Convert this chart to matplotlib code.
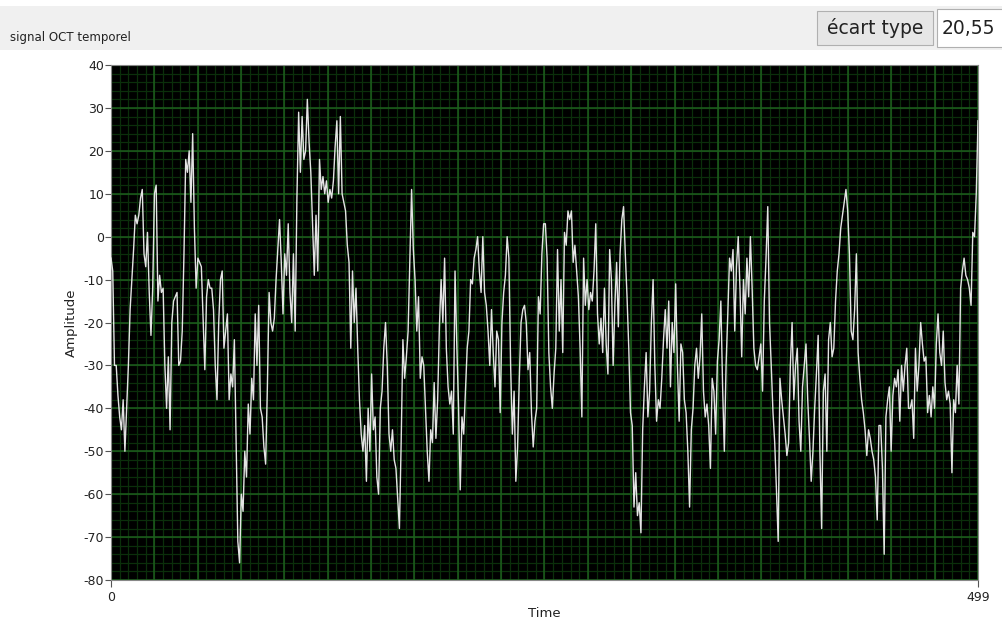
import numpy as np
import matplotlib
matplotlib.use("Agg")
import matplotlib.pyplot as plt
from matplotlib.patches import Rectangle

title = "signal OCT temporel"
x_label = "Time"
y_label = "Amplitude"
std_label = "écart type"
std_value = "20,55"
y_ticks = list(range(-80, 41, 10))
x_ticks = [0, 499]

amplitude = [
    -5, -8, -30, -30, -37, -42, -45, -38, -50, -40,
    -30, -17, -10, -3, 5, 3, 5, 9, 11, -4,
    -7, 1, -13, -23, -12, 10, 12, -15, -9, -13,
    -12, -30, -40, -28, -45, -20, -15, -14, -13, -30,
    -29, -22, -4, 18, 15, 20, 8, 24, 2, -12,
    -5, -6, -7, -19, -31, -14, -10, -12, -12, -17,
    -30, -38, -20, -10, -8, -26, -22, -18, -38, -32,
    -35, -24, -47, -71, -76, -60, -64, -50, -56, -39,
    -46, -33, -38, -18, -30, -16, -40, -42, -49, -53,
    -35, -13, -20, -22, -19, -10, -3, 4, -6, -18,
    -4, -9, 3, -13, -20, -4, -22, 9, 29, 15,
    28, 18, 20, 32, 22, 15, 3, -9, 5, -8,
    18, 11, 14, 10, 13, 8, 11, 9, 13, 21,
    27, 10, 28, 10, 8, 6, -2, -6, -26, -8,
    -20, -12, -26, -38, -46, -50, -44, -57, -40, -50,
    -32, -45, -42, -56, -60, -40, -36, -26, -20, -30,
    -46, -50, -45, -52, -54, -61, -68, -48, -24, -33,
    -28, -22, -6, 11, -3, -10, -22, -14, -33, -28,
    -30, -40, -50, -57, -45, -48, -34, -47, -38, -21,
    -10, -20, -5, -26, -35, -39, -36, -46, -8, -25,
    -39, -59, -42, -46, -36, -26, -22, -10, -11, -5,
    -3, 0, -8, -13, 0, -13, -16, -22, -30, -17,
    -27, -35, -22, -24, -41, -20, -13, -9, 0, -5,
    -30, -46, -36, -57, -49, -33, -20, -17, -16, -20,
    -31, -27, -41, -49, -43, -40, -14, -18, -4, 3,
    3, -5, -27, -35, -40, -32, -26, -3, -22, -10,
    -27, 1, -2, 6, 4, 6, -6, -2, -8, -14,
    -26, -42, -5, -16, -10, -17, -13, -15, -8, 3,
    -18, -25, -19, -27, -12, -25, -32, -3, -10, -30,
    -16, -6, -21, -4, 4, 7, -4, -14, -26, -41,
    -44, -63, -55, -65, -62, -69, -45, -35, -27, -42,
    -36, -20, -10, -30, -43, -38, -40, -33, -24, -17,
    -26, -15, -35, -20, -27, -11, -30, -43, -25, -27,
    -38, -41, -50, -63, -45, -40, -30, -26, -33, -28,
    -18, -36, -42, -39, -44, -54, -33, -36, -46, -29,
    -24, -15, -35, -50, -30, -18, -5, -8, -3, -22,
    -7, 0, -12, -28, -10, -18, -5, -14, 0, -12,
    -26, -30, -31, -28, -25, -36, -15, -5, 7, -20,
    -30, -41, -48, -59, -71, -33, -38, -42, -46, -51,
    -48, -30, -20, -38, -30, -26, -43, -50, -35, -30,
    -25, -38, -47, -57, -50, -40, -32, -23, -50, -68,
    -36, -32, -50, -24, -20, -28, -26, -15, -8, -4,
    2, 5, 8, 11, 6, -4, -22, -24, -17, -4,
    -27, -33, -38, -41, -45, -51, -45, -47, -50, -52,
    -56, -66, -44, -44, -54, -74, -42, -38, -35, -50,
    -37, -33, -35, -31, -43, -30, -36, -30, -26, -40,
    -40, -38, -47, -26, -36, -30, -20, -25, -29, -28,
    -41, -37, -42, -35, -40, -25, -18, -27, -30, -22,
    -34, -38, -36, -39, -55, -38, -41, -30, -39, -12,
    -8, -5, -9, -10, -12, -16, 1, 0, 10, 27,
]

W, H = 1003, 637
fig = plt.figure(figsize=(W / 100, H / 100), dpi=100, facecolor="white")

# top band
fig.patches.append(Rectangle((0, 1 - 50 / H), 1, 44 / H, transform=fig.transFigure,
                             facecolor="#f0f0f0", edgecolor="none", zorder=0))

ax = fig.add_axes([111 / W, 1 - 580 / H, (978 - 111) / W, (580 - 65) / H])
ax.set_facecolor("black")

t = np.arange(len(amplitude))
ax.plot(t, amplitude, color="#e4e4e4", lw=1.0, zorder=3)

ax.set_xlim(0, 499)
ax.set_ylim(-80, 40)

# grid
for xv in np.linspace(0, 499, 101):
    ax.axvline(xv, color="#0b2f0b", lw=0.9, zorder=1)
for yv in np.arange(-80, 41, 2):
    ax.axhline(yv, color="#0b2f0b", lw=0.9, zorder=1)
for xv in np.linspace(0, 499, 21):
    ax.axvline(xv, color="#1d5f1d", lw=1.1, zorder=2)
for yv in y_ticks:
    ax.axhline(yv, color="#1d5f1d", lw=1.1, zorder=2)

ax.set_yticks(y_ticks)
ax.set_yticklabels([str(v) for v in y_ticks])
ax.set_xticks(x_ticks)
ax.set_xticklabels([str(v) for v in x_ticks])
ax.tick_params(axis="y", which="major", length=4, width=0.8, color="#555555",
               labelsize=9, labelcolor="#222222", pad=1)
ax.tick_params(axis="x", which="major", length=5, width=0.8, color="#555555",
               labelsize=9, labelcolor="#222222", pad=3)
for s in ax.spines.values():
    s.set_color("#888888")
    s.set_linewidth(0.8)

ax.set_xlabel(x_label, fontsize=9.5, color="#222222", labelpad=2)
ax.set_ylabel(y_label, fontsize=9.5, color="#222222", labelpad=4)

fig.text(10 / W, 1 - 37 / H, title, fontsize=8.5, color="#222222", va="center", ha="left")

# écart type button and value box
fig.patches.append(Rectangle((817 / W, 1 - 45 / H), 116 / W, 34 / H, transform=fig.transFigure,
                             facecolor="#e6e6e6", edgecolor="#b0b0b0", lw=0.8, zorder=1))
fig.text(875 / W, 1 - 28 / H, std_label, fontsize=13.5, color="#222222", va="center", ha="center")
fig.patches.append(Rectangle((937 / W, 1 - 47 / H), 66 / W, 38 / H, transform=fig.transFigure,
                             facecolor="white", edgecolor="#b0b0b0", lw=0.8, zorder=1))
fig.text(968 / W, 1 - 28 / H, std_value, fontsize=13.5, color="#222222", va="center", ha="center")

fig.savefig("out.png", dpi=100, facecolor=fig.get_facecolor())
